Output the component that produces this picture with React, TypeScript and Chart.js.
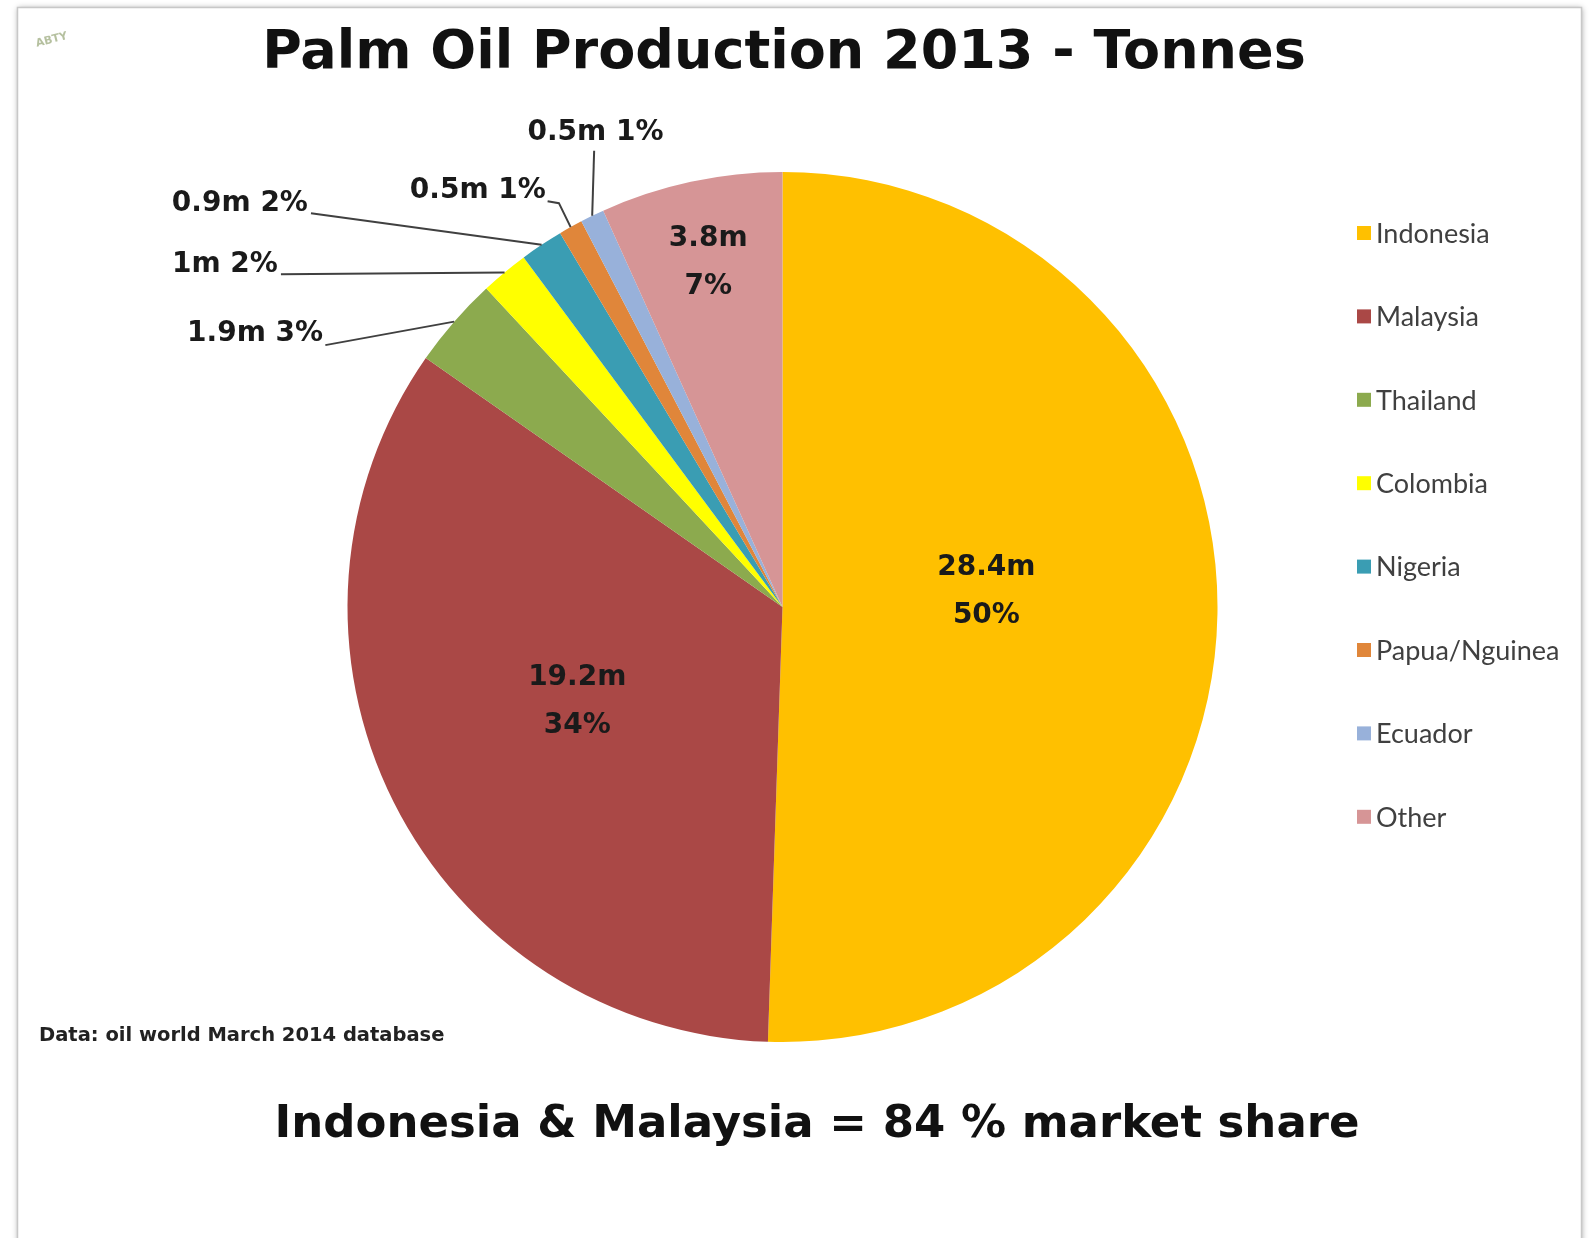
import React, { useEffect, useRef } from "react";
import { Chart, registerables } from "chart.js";

Chart.register(...registerables);

const countries = ["Indonesia", "Malaysia", "Thailand", "Colombia", "Nigeria", "Papua/Nguinea", "Ecuador", "Other"];
const tonnesMillions = [28.4, 19.2, 1.9, 1.0, 0.9, 0.5, 0.5, 3.8];
const valueLabels = ["28.4m", "19.2m", "1.9m", "1m", "0.9m", "0.5m", "0.5m", "3.8m"];
const percentLabels = ["50%", "34%", "3%", "2%", "2%", "1%", "1%", "7%"];
const sliceColors = ["#FFC000", "#AA4846", "#8CAA4E", "#FFFF00", "#3A9DB3", "#E0863A", "#98B1DA", "#D69596"];

const titleText = "Palm Oil Production 2013 - Tonnes";
const sourceText = "Data: oil world March 2014 database";
const summaryText = "Indonesia & Malaysia = 84 % market share";

// label placement (in units of pie radius, relative to pie centre)
type LabelLayout =
  | { kind: "inside"; frac: number; dAngle: number }
  | { kind: "outside"; tx: number; ty: number; align: CanvasTextAlign; lx: number; ly: number; kink?: number };

const labelLayout: LabelLayout[] = [
  { kind: "inside", frac: 0.47, dAngle: -0.09 },
  { kind: "inside", frac: 0.52, dAngle: 0.03 },
  { kind: "outside", tx: -1.056, ty: -0.628, align: "right", lx: -1.051, ly: -0.602 },
  { kind: "outside", tx: -1.160, ty: -0.786, align: "right", lx: -1.153, ly: -0.765 },
  { kind: "outside", tx: -1.091, ty: -0.928, align: "right", lx: -1.084, ly: -0.905 },
  { kind: "outside", tx: -0.544, ty: -0.958, align: "right", lx: -0.540, ly: -0.933, kink: 0.026 },
  { kind: "outside", tx: -0.430, ty: -1.091, align: "center", lx: -0.433, ly: -1.049 },
  { kind: "inside", frac: 0.81, dAngle: 0 },
];

const BOLD = "'DejaVu Sans', Verdana, sans-serif";
const LEGEND_FONT = "Lato, 'Open Sans', sans-serif";

const decorPlugin = {
  id: "decor",
  beforeDraw(chart: any) {
    const ctx = chart.ctx as CanvasRenderingContext2D;
    ctx.save();
    ctx.fillStyle = "#ffffff";
    ctx.fillRect(0, 0, chart.width, chart.height);
    ctx.shadowColor = "rgba(0,0,0,0.35)";
    ctx.shadowBlur = 6;
    ctx.shadowOffsetX = 1;
    ctx.shadowOffsetY = 1;
    ctx.fillStyle = "#ffffff";
    ctx.fillRect(17, 7, 1564, 1240);
    ctx.shadowColor = "transparent";
    ctx.strokeStyle = "#c8c8c8";
    ctx.lineWidth = 1.5;
    ctx.strokeRect(17.5, 7.5, 1564, 1240);
    ctx.restore();
  },
  afterDatasetsDraw(chart: any) {
    const ctx = chart.ctx as CanvasRenderingContext2D;
    const meta = chart.getDatasetMeta(0);
    const arcs = meta.data as any[];
    if (!arcs.length) return;
    const cx = arcs[0].x;
    const cy = arcs[0].y;
    const R = arcs[0].outerRadius;
    ctx.save();
    ctx.fillStyle = "#1a1a1a";
    ctx.font = `bold 28px ${BOLD}`;
    ctx.textBaseline = "middle";
    arcs.forEach((arc, i) => {
      const lay = labelLayout[i];
      const mid = (arc.startAngle + arc.endAngle) / 2;
      if (lay.kind === "inside") {
        const a = mid + lay.dAngle;
        const x = cx + Math.cos(a) * R * lay.frac;
        const y = cy + Math.sin(a) * R * lay.frac;
        ctx.textAlign = "center";
        ctx.fillText(valueLabels[i], x, y - 24);
        ctx.fillText(percentLabels[i], x, y + 24);
      } else {
        ctx.textAlign = lay.align;
        ctx.fillText(`${valueLabels[i]} ${percentLabels[i]}`, cx + lay.tx * R, cy + lay.ty * R);
        const ex = cx + Math.cos(mid) * R;
        const ey = cy + Math.sin(mid) * R;
        ctx.strokeStyle = "#404040";
        ctx.lineWidth = 2;
        ctx.beginPath();
        const sx = cx + lay.lx * R;
        const sy = cy + lay.ly * R;
        ctx.moveTo(sx, sy);
        if (lay.kink) {
          ctx.lineTo(sx + lay.kink * R, sy + 2);
        }
        ctx.lineTo(ex, ey);
        ctx.stroke();
      }
    });

    // title
    ctx.fillStyle = "#111111";
    ctx.textAlign = "center";
    ctx.font = `bold 54px ${BOLD}`;
    ctx.fillText(titleText, 784, 54);

    // summary
    ctx.font = `bold 45px ${BOLD}`;
    ctx.fillText(summaryText, 817, 1125);

    // source
    ctx.textAlign = "left";
    ctx.font = `bold 19.5px ${BOLD}`;
    ctx.fillStyle = "#222222";
    ctx.fillText(sourceText, 39, 1036);

    // legend
    const labels = chart.data.labels as string[];
    const colors = chart.data.datasets[0].backgroundColor as string[];
    ctx.font = `27px ${LEGEND_FONT}`;
    labels.forEach((lab, i) => {
      const y = 233 + i * 83.4;
      ctx.fillStyle = colors[i];
      ctx.fillRect(1357, y - 7, 14, 14);
      ctx.fillStyle = "#404040";
      ctx.fillText(lab, 1376, y + 1);
    });

    // small logo mark
    ctx.fillStyle = "rgba(120,140,80,0.55)";
    ctx.font = `bold 11px ${BOLD}`;
    ctx.save();
    ctx.translate(36, 44);
    ctx.rotate(-0.25);
    ctx.fillText("ABTY", 0, 0);
    ctx.restore();
    ctx.restore();
  },
};

export default function App() {
  const ref = useRef<HTMLCanvasElement | null>(null);
  useEffect(() => {
    document.body.style.margin = "0";
    document.body.style.overflow = "hidden";
    const canvas = ref.current!;
    const chart = new Chart(canvas, {
      type: "pie",
      data: {
        labels: countries,
        datasets: [
          {
            data: tonnesMillions,
            backgroundColor: sliceColors,
            borderWidth: 0,
          },
        ],
      },
      options: {
        animation: false,
        responsive: false,
        layout: { padding: { left: 347, right: 375, top: 172, bottom: 196 } },
        plugins: {
          legend: { display: false },
          tooltip: { enabled: false },
          title: { display: false },
        },
      },
      plugins: [decorPlugin],
    });
    return () => chart.destroy();
  }, []);
  return <canvas ref={ref} width={1593} height={1238} style={{ display: "block", width: 1593, height: 1238 }} />;
}
